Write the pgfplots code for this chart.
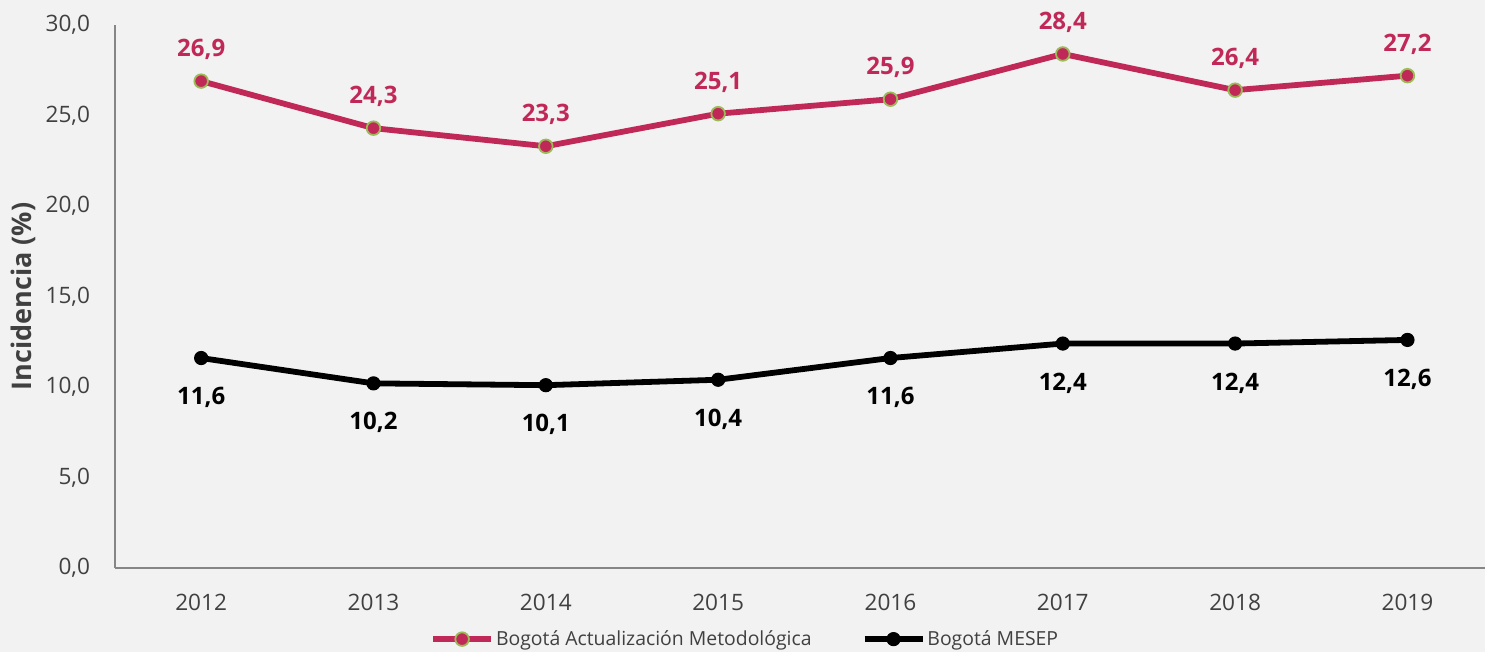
\documentclass[border=0pt]{standalone}
\usepackage{pgfplots}
\pgfplotsset{compat=1.18}
\usepackage{fontspec}
\setmainfont{Open Sans}
\definecolor{bg}{HTML}{F2F2F2}
\definecolor{rojo}{RGB}{192,41,87}
\definecolor{verde}{RGB}{155,187,89}
\definecolor{ejes}{HTML}{868686}
\definecolor{texto}{HTML}{404040}
\begin{document}
\begin{tikzpicture}
\fill[bg] (0,0) rectangle (742.5pt,326pt);
\begin{axis}[
  at={(57.5pt,42pt)}, anchor=south west,
  scale only axis, width=685pt, height=271.5pt,
  xmin=-0.5, xmax=7.45, ymin=0, ymax=30,
  axis x line*=bottom, axis y line*=left,
  axis line style={ejes, line width=0.8pt},
  x axis line style={-}, y axis line style={-},
  xtick={0,...,7},
  xticklabels={2012,2013,2014,2015,2016,2017,2018,2019},
  ytick={0,5,...,30},
  major tick length=0pt,
  /pgf/number format/assume math mode=true,
  yticklabel={\pgfmathprintnumber[fixed,fixed zerofill,precision=1,use comma]{\tick}},
  tick label style={font=\fontsize{11.3}{13}\selectfont, text=texto},
  yticklabel style={xshift=-9pt},
  xticklabel style={yshift=-9.5pt},
  ylabel={\textbf{Incidencia (\%)}},
  ylabel style={font=\fontsize{13.5}{15}\selectfont, text=texto, at={(axis description cs:-0.067,0.5)}, anchor=center},
  legend columns=2,
  legend style={at={(0.46,-0.131)}, anchor=center, draw=none, fill=none,
    font=\fontsize{9.7}{11}\selectfont, text=texto,
    /tikz/every even column/.append style={column sep=24pt},
    inner sep=0pt, nodes={inner sep=1pt}},
  legend image code/.code={\draw[mark repeat=2,mark phase=2,#1] plot coordinates {(0pt,0pt) (14.5pt,0pt) (29pt,0pt)};},
  clip=false,
  nodes near coords={\pgfmathprintnumber[fixed,fixed zerofill,precision=1,use comma]{\pgfplotspointmeta}},
]
\addplot[rojo, line width=2.9pt, mark=*, mark size=3.4pt,
  mark options={fill=rojo, draw=verde, line width=0.9pt},
  every node near coord/.append style={font=\bfseries\fontsize{12}{14}\selectfont, text=rojo, anchor=south, yshift=7pt}]
  coordinates {(0,26.9) (1,24.3) (2,23.3) (3,25.1) (4,25.9) (5,28.4) (6,26.4) (7,27.2)};
\addlegendentry{Bogotá Actualización Metodológica}
\addplot[black, line width=2.9pt, mark=*, mark size=3.3pt,
  mark options={fill=black, draw=black, line width=0.5pt},
  every node near coord/.append style={font=\bfseries\fontsize{12}{14}\selectfont, text=black, anchor=north, yshift=-11pt}]
  coordinates {(0,11.6) (1,10.2) (2,10.1) (3,10.4) (4,11.6) (5,12.4) (6,12.4) (7,12.6)};
\addlegendentry{Bogotá MESEP}
\end{axis}
\pgfresetboundingbox
\useasboundingbox (0,0) rectangle (742.5pt,326pt);
\end{tikzpicture}
\end{document}
